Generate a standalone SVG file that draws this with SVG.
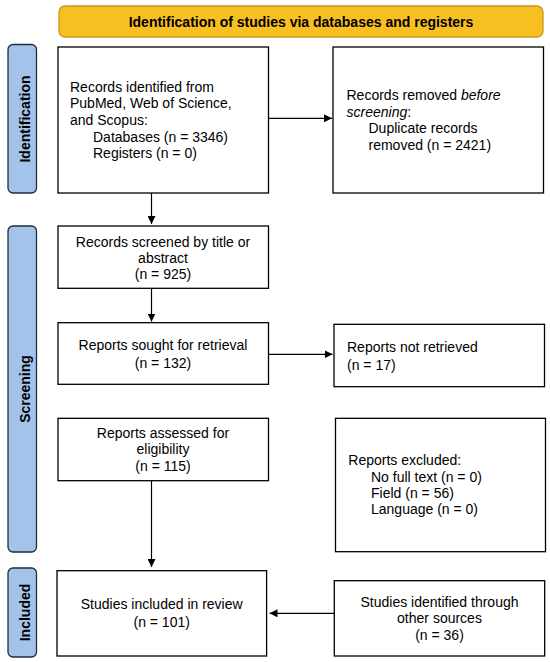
<svg xmlns="http://www.w3.org/2000/svg" width="550" height="662" viewBox="0 0 550 662">
<style>
  text { font-family: "Liberation Sans", Arial, sans-serif; font-size: 14px; fill: #000; }
  .b { font-weight: bold; }
  .c { text-anchor: middle; }
  .box { fill: #fff; stroke: #000; stroke-width: 1.3; }
  .bar { fill: #a3c3ea; stroke: #1f2d3d; stroke-width: 1.3; }
  .ban { fill: #f8bf22; stroke: #c8991e; stroke-width: 1.3; }
  .ln { stroke: #000; stroke-width: 1.2; fill: none; }
</style>
<defs>
  <marker id="ah" viewBox="0 0 10 10" refX="10" refY="5" markerWidth="8" markerHeight="8" markerUnits="userSpaceOnUse" orient="auto">
    <path d="M0,0 L10,5 L0,10 z" fill="#000"/>
  </marker>
</defs>
<rect width="550" height="662" fill="#fff"/>

<g id="banner">
  <rect class="ban" x="59" y="6" width="484" height="31" rx="6"/>
  <text class="b c" x="301" y="26.5">Identification of studies via databases and registers</text>
</g>

<g id="bar-identification">
  <rect class="bar" x="8" y="44.5" width="28.5" height="148.5" rx="5"/>
  <text class="b c" transform="translate(30,119) rotate(-90)">Identification</text>
</g>
<g id="bar-screening">
  <rect class="bar" x="8" y="226" width="28.5" height="326" rx="5"/>
  <text class="b c" transform="translate(30,389) rotate(-90)">Screening</text>
</g>
<g id="bar-included">
  <rect class="bar" x="8" y="568" width="28.5" height="89" rx="5"/>
  <text class="b c" transform="translate(30,612.5) rotate(-90)">Included</text>
</g>

<g id="records-identified">
  <rect class="box" x="58" y="47" width="210.5" height="146"/>
  <text x="70" y="91.7">Records identified from</text>
  <text x="70" y="108.3">PubMed, Web of Science,</text>
  <text x="70" y="125">and Scopus:</text>
  <text x="93" y="141.7">Databases (n = 3346)</text>
  <text x="93" y="158.3">Registers (n = 0)</text>
</g>

<g id="records-removed">
  <rect class="box" x="333" y="47" width="210.5" height="146"/>
  <text x="346.5" y="100">Records removed <tspan font-style="italic">before</tspan></text>
  <text x="346.5" y="116.7"><tspan font-style="italic">screening</tspan>:</text>
  <text x="368.5" y="133.3">Duplicate records</text>
  <text x="368.5" y="150">removed (n = 2421)</text>
</g>

<g id="records-screened">
  <rect class="box" x="58" y="226" width="210.5" height="62.3"/>
  <text class="c" x="163" y="246.7">Records screened by title or</text>
  <text class="c" x="163" y="262.7">abstract</text>
  <text class="c" x="163" y="279.3">(n = 925)</text>
</g>

<g id="reports-sought">
  <rect class="box" x="58" y="322.7" width="210.5" height="61.6"/>
  <text class="c" x="163" y="350">Reports sought for retrieval</text>
  <text class="c" x="163" y="367.7">(n = 132)</text>
</g>

<g id="reports-not-retrieved">
  <rect class="box" x="334" y="324.3" width="210.5" height="62.4"/>
  <text x="347" y="351.7">Reports not retrieved</text>
  <text x="347" y="370">(n = 17)</text>
</g>

<g id="reports-assessed">
  <rect class="box" x="58" y="418.3" width="210.5" height="62.4"/>
  <text class="c" x="163" y="438.3">Reports assessed for</text>
  <text class="c" x="163" y="453.8">eligibility</text>
  <text class="c" x="163" y="470.7">(n = 115)</text>
</g>

<g id="reports-excluded">
  <rect class="box" x="335.5" y="418.3" width="210" height="133.4"/>
  <text x="348.3" y="465">Reports excluded:</text>
  <text x="371" y="481.7">No full text (n = 0)</text>
  <text x="371" y="498.3">Field (n = 56)</text>
  <text x="371" y="514.3">Language (n = 0)</text>
</g>

<g id="studies-included">
  <rect class="box" x="57" y="570.7" width="209.6" height="85.3"/>
  <text class="c" x="161.7" y="609.3">Studies included in review</text>
  <text class="c" x="161.7" y="627.3">(n = 101)</text>
</g>

<g id="other-sources">
  <rect class="box" x="334.3" y="580.7" width="210.4" height="75.3"/>
  <text class="c" x="439.5" y="607.3">Studies identified through</text>
  <text class="c" x="439.5" y="623.3">other sources</text>
  <text class="c" x="439.5" y="640">(n = 36)</text>
</g>

<g id="connectors">
  <line class="ln" x1="268.5" y1="118.3" x2="332" y2="118.3" marker-end="url(#ah)"/>
  <line class="ln" x1="151.5" y1="193" x2="151.5" y2="224" marker-end="url(#ah)"/>
  <line class="ln" x1="151.5" y1="288.3" x2="151.5" y2="321.5" marker-end="url(#ah)"/>
  <line class="ln" x1="268.5" y1="354.3" x2="332.5" y2="354.3" marker-end="url(#ah)"/>
  <line class="ln" x1="151.5" y1="480.7" x2="151.5" y2="567" marker-end="url(#ah)"/>
  <line class="ln" x1="334.3" y1="613.3" x2="269.5" y2="613.3" marker-end="url(#ah)"/>
</g>
</svg>
